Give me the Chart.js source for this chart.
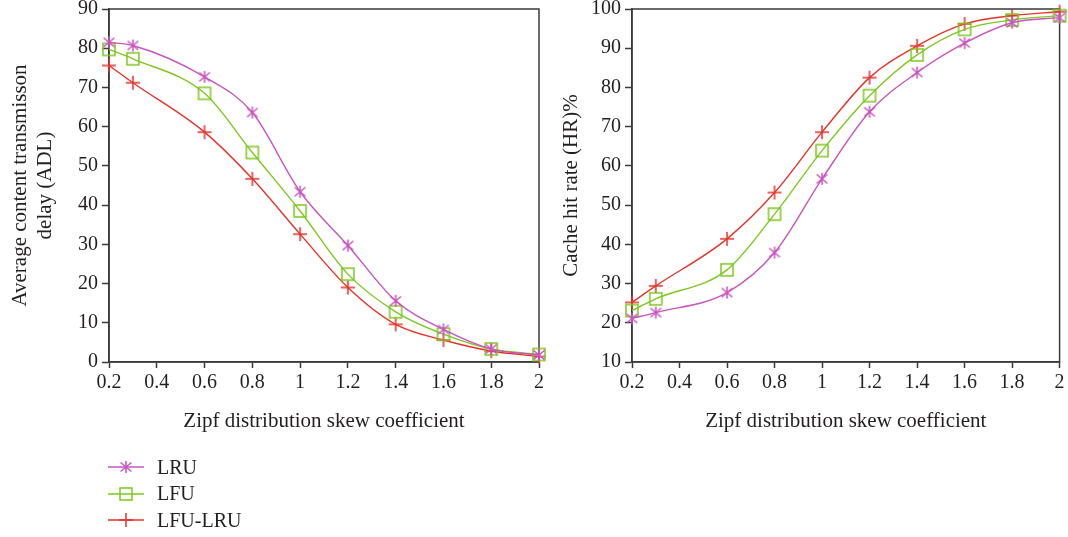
<!DOCTYPE html>
<html>
<head>
<meta charset="utf-8">
<script src="https://cdn.jsdelivr.net/npm/chart.js@4.4.1/dist/chart.umd.min.js"></script>
<style>
  html, body { margin: 0; padding: 0; background: #ffffff; }
  body { width: 1068px; height: 537px; position: relative; overflow: hidden; font-family: "Liberation Serif", "Times New Roman", serif; color: #231f20; }
  #wrapL { position: absolute; left: 0; top: -7px; width: 552px; height: 447px; }
  #wrapR { position: absolute; left: 550px; top: -7px; width: 518px; height: 447px; }
  #legend { position: absolute; left: 108px; top: 454px; }
  .row { height: 26.5px; display: flex; align-items: center; font-size: 20px; }
  .row canvas { width: 36px; height: 16px; margin-right: 13px; }
</style>
</head>
<body>
<div id="wrapL"><canvas id="left"></canvas></div>
<div id="wrapR"><canvas id="right"></canvas></div>
<div id="legend"></div>
<script>
// ---------- data ----------
const skew = [0.2, 0.3, 0.6, 0.8, 1.0, 1.2, 1.4, 1.6, 1.8, 2.0];
const xTicks = [0.2, 0.4, 0.6, 0.8, 1.0, 1.2, 1.4, 1.6, 1.8, 2.0];
const delayTicks = [0, 10, 20, 30, 40, 50, 60, 70, 80, 90];
const hitTicks = [10, 20, 30, 40, 50, 60, 70, 80, 90, 100];
const seriesNames = ["LRU", "LFU", "LFU-LRU"];

const delayLRU    = [81.5, 80.7, 72.7, 63.6, 43.4, 29.7, 15.6, 8.3, 3.3, 1.8];
const delayLFU    = [79.7, 77.3, 68.5, 53.4, 38.5, 22.4, 12.8, 7.1, 3.3, 1.9];
const delayLFULRU = [75.6, 71.2, 58.6, 46.7, 32.6, 19.0, 9.6, 5.6, 2.8, 1.4];

const hitLRU    = [21.1, 22.6, 27.7, 37.9, 56.7, 73.8, 83.8, 91.3, 96.5, 97.8];
const hitLFU    = [23.1, 26.1, 33.5, 47.7, 63.9, 77.9, 88.3, 94.8, 97.2, 98.3];
const hitLFULRU = [25.2, 29.4, 41.4, 53.2, 68.6, 82.5, 90.6, 96.2, 98.3, 99.3];

// ---------- styles ----------
const colors = ["#c955c1", "#7ec81f", "#e8322a"];
const markerKinds = ["asterisk", "square", "plus"];
const textColor = "#231f20";
const axisColor = "#3a3a3a";
const FONT = "'Liberation Serif', 'Times New Roman', serif";

function drawMarker(g, kind, color, cx, cy) {
  g.strokeStyle = color;
  g.lineWidth = 1.5;
  g.beginPath();
  if (kind === "asterisk") {
    const r = 6;
    g.moveTo(cx, cy - r); g.lineTo(cx, cy + r);
    g.moveTo(cx - r * 0.9, cy - r * 0.75); g.lineTo(cx + r * 0.9, cy + r * 0.75);
    g.moveTo(cx + r * 0.9, cy - r * 0.75); g.lineTo(cx - r * 0.9, cy + r * 0.75);
  } else if (kind === "square") {
    const h = 6;
    g.rect(cx - h, cy - h, 2 * h, 2 * h);
  } else {
    const r = 7;
    g.moveTo(cx - r, cy); g.lineTo(cx + r, cy);
    g.moveTo(cx, cy - r); g.lineTo(cx, cy + r);
  }
  g.stroke();
}

function markerCanvas(kind, color) {
  const c = document.createElement("canvas");
  c.width = 18; c.height = 18;
  drawMarker(c.getContext("2d"), kind, color, 9, 9);
  return c;
}

const frame = {
  id: "frame",
  beforeDatasetsDraw(chart) {
    const { ctx, chartArea: a } = chart;
    ctx.save();
    ctx.strokeStyle = axisColor;
    ctx.lineWidth = 1.5;
    ctx.strokeRect(a.left, a.top, a.right - a.left, a.bottom - a.top);
    ctx.restore();
  }
};

function makeDatasets(arrs) {
  return arrs.map((arr, i) => ({
    label: seriesNames[i],
    data: skew.map((x, k) => ({ x: x, y: arr[k] })),
    borderColor: colors[i],
    backgroundColor: colors[i],
    borderWidth: 1.4,
    pointStyle: markerCanvas(markerKinds[i], colors[i]),
    pointRadius: 7,
    cubicInterpolationMode: "monotone",
    clip: false
  }));
}

function makeChart(id, datasets, yTicks, yTitle, yWidth, titlePad, rightPad) {
  return new Chart(document.getElementById(id), {
    type: "line",
    data: { datasets: datasets },
    options: {
      responsive: true,
      maintainAspectRatio: false,
      animation: false,
      events: [],
      layout: { padding: { left: 0, right: rightPad, top: 9, bottom: 0 } },
      plugins: { legend: { display: false }, tooltip: { enabled: false } },
      scales: {
        x: {
          type: "linear",
          min: xTicks[0],
          max: xTicks[xTicks.length - 1],
          afterBuildTicks: s => { s.ticks = xTicks.map(v => ({ value: v })); },
          afterFit: s => { s.height = 78; },
          grid: { drawOnChartArea: false, drawTicks: true, tickLength: 6, tickWidth: 1.5, tickColor: axisColor },
          border: { color: axisColor, width: 1.5 },
          ticks: {
            color: textColor, padding: 3, maxRotation: 0, autoSkip: false,
            font: { family: FONT, size: 20 },
            callback: v => String(parseFloat(Number(v).toFixed(1)))
          },
          title: {
            display: true, text: "Zipf distribution skew coefficient", color: textColor,
            font: { family: FONT, size: 21 }, padding: { top: 0, bottom: 6 }
          }
        },
        y: {
          type: "linear",
          min: yTicks[0],
          max: yTicks[yTicks.length - 1],
          afterBuildTicks: s => { s.ticks = yTicks.map(v => ({ value: v })); },
          afterFit: s => { s.width = yWidth; },
          grid: { drawOnChartArea: false, drawTicks: true, tickLength: 7, tickWidth: 1.5, tickColor: axisColor },
          border: { color: axisColor, width: 1.5 },
          ticks: { color: textColor, padding: 4, font: { family: FONT, size: 20 } },
          title: {
            display: true, text: yTitle, color: textColor,
            font: { family: FONT, size: 21 }, padding: { top: titlePad, bottom: 0 }
          }
        }
      }
    },
    plugins: [frame]
  });
}

makeChart("left", makeDatasets([delayLRU, delayLFU, delayLFULRU]), delayTicks,
  ["Average content transmisson", "delay (ADL)"], 109, 8, 13);
makeChart("right", makeDatasets([hitLRU, hitLFU, hitLFULRU]), hitTicks,
  "Cache hit rate (HR)%", 82, 9, 6);

// legend
const legend = document.getElementById("legend");
seriesNames.forEach((name, i) => {
  const row = document.createElement("div");
  row.className = "row";
  const c = document.createElement("canvas");
  c.width = 36; c.height = 16;
  const g = c.getContext("2d");
  g.strokeStyle = colors[i]; g.lineWidth = 1.4;
  g.beginPath(); g.moveTo(0, 8); g.lineTo(36, 8); g.stroke();
  drawMarker(g, markerKinds[i], colors[i], 18, 8);
  const t = document.createElement("span");
  t.textContent = name;
  row.appendChild(c); row.appendChild(t);
  legend.appendChild(row);
});
</script>
</body>
</html>
